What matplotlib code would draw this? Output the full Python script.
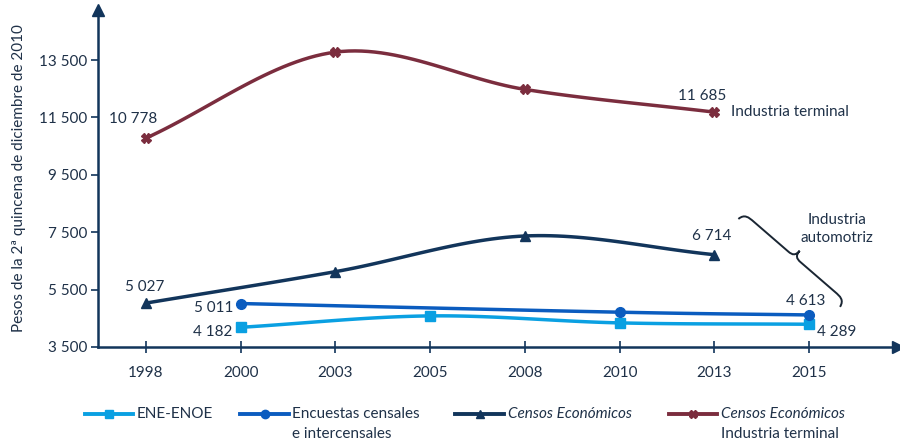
import numpy as np
import matplotlib
matplotlib.use("Agg")
from matplotlib import pyplot as plt
from matplotlib.lines import Line2D
from matplotlib.path import Path
from matplotlib.patches import PathPatch
from matplotlib.ticker import FuncFormatter

plt.rcParams['font.family'] = ['Lato', 'DejaVu Sans']

years = ['1998', '2000', '2003', '2005', '2008', '2010', '2013', '2015']
ene_enoe = [None, 4182, None, 4580, None, 4336, None, 4289]
encuestas = [None, 5011, None, None, None, 4709, None, 4613]
censos = [5027, None, 6123, None, 7367, None, 6714, None]
censos_terminal = [10778, None, 13778, None, 12478, None, 11685, None]

c_light = '#0aa0e2'
c_blue = '#0b5cbf'
c_navy = '#12355b'
c_red = '#7b2d3e'
c_text = '#1f3148'
fs = 11


def smooth(xs, ys, n=30):
    # Catmull-Rom curve through the points (like Excel smoothed lines)
    xs = np.asarray(xs, float)
    ys = np.asarray(ys, float)
    px = np.concatenate([[2 * xs[0] - xs[1]], xs, [2 * xs[-1] - xs[-2]]])
    py = np.concatenate([[2 * ys[0] - ys[1]], ys, [2 * ys[-1] - ys[-2]]])
    out_x, out_y = [], []
    t = np.linspace(0, 1, n)
    for i in range(1, len(px) - 2):
        for p, out in ((px, out_x), (py, out_y)):
            p0, p1, p2, p3 = p[i - 1], p[i], p[i + 1], p[i + 2]
            out.extend(0.5 * ((2 * p1) + (-p0 + p2) * t + (2 * p0 - 5 * p1 + 4 * p2 - p3) * t ** 2
                              + (-p0 + 3 * p1 - 3 * p2 + p3) * t ** 3))
    return out_x, out_y


series = [
    (ene_enoe, c_light, 's', 7),
    (encuestas, c_blue, 'o', 7),
    (censos, c_navy, '^', 7),
    (censos_terminal, c_red, 'X', 7),
]

fig = plt.figure(figsize=(9, 4.43), dpi=100)
ax = fig.add_axes([0.109, 0.217, 0.889, 0.76])

for vals, col, mk, ms in series:
    xs = [i for i, v in enumerate(vals) if v is not None]
    ys = [v for v in vals if v is not None]
    sx, sy = smooth(xs, ys)
    ax.plot(sx, sy, color=col, lw=2.5, solid_capstyle='round', zorder=3)
    ax.plot(xs, ys, ls='none', marker=mk, ms=ms, color=col, mec=col, zorder=4)

ax.set_xlim(-0.505, 7.94)
ax.set_ylim(3500, 15240)
ax.set_xticks(range(len(years)))
ax.set_xticklabels(years)
ax.set_yticks(np.arange(3500, 14000, 2000))
ax.yaxis.set_major_formatter(FuncFormatter(lambda v, p: f'{int(v):,}'.replace(',', ' ')))
ax.tick_params(axis='x', direction='inout', length=9, width=1.2, color=c_navy, pad=9,
               labelsize=fs, labelcolor=c_text)
ax.tick_params(axis='y', direction='out', length=5, width=1.2, color=c_navy, pad=3,
               labelsize=fs, labelcolor=c_text)
for s in ('top', 'right'):
    ax.spines[s].set_visible(False)
for s in ('left', 'bottom'):
    ax.spines[s].set_color(c_navy)
    ax.spines[s].set_linewidth(1.8)
ax.plot(1, 0, '>', color=c_navy, ms=8, transform=ax.transAxes, clip_on=False)
ax.plot(0, 1, '^', color=c_navy, ms=8, transform=ax.transAxes, clip_on=False)
ax.patch.set_visible(False)

ax.set_ylabel('Pesos de la 2ª quincena de diciembre de 2010', fontsize=fs, color=c_text, labelpad=9)

# data labels
labels = [
    (0, censos_terminal[0], '10 778', (-13, 19), 'center'),
    (6, censos_terminal[6], '11 685', (-12, 16), 'center'),
    (0, censos[0], '5 027', (-1, 16), 'center'),
    (6, censos[6], '6 714', (-3, 19), 'center'),
    (1, encuestas[1], '5 011', (-7, -4), 'right'),
    (1, ene_enoe[1], '4 182', (-8, -5), 'right'),
    (7, encuestas[7], '4 613', (-3, 14), 'center'),
    (7, ene_enoe[7], '4 289', (28, -8), 'center'),
]
for x, y, txt, off, ha in labels:
    ax.annotate(txt, (x, y), xytext=off, textcoords='offset pixels', ha=ha, va='center',
                fontsize=fs, color=c_text)
ax.annotate('Industria terminal', (6, censos_terminal[6]), xytext=(17, 0), textcoords='offset pixels',
            ha='left', va='center', fontsize=fs, color=c_text)
ax.annotate('Industria\nautomotriz', (7, encuestas[7]), xytext=(28, 86), textcoords='offset pixels',
            ha='center', va='center', fontsize=fs, color=c_text, linespacing=1.35)

# curly brace
p0 = ax.transData.transform((6.253, 7960))
p1 = ax.transData.transform((7.326, 4895))
d = p1 - p0
L = np.hypot(*d)
u = d / L
v = np.array([-u[1], u[0]])
h = 16
local = [(0, 0), (0.01, 0.5), (0.05, 0.5), (0.1, 0.5), (0.44, 0.5),
         (0.48, 0.5), (0.5, 0.6), (0.5, 1.0), (0.5, 0.6), (0.52, 0.5), (0.56, 0.5),
         (0.9, 0.5), (0.95, 0.5), (0.99, 0.5), (1.0, 0.0)]
pts = [p0 + a * L * u + b * h * v for a, b in local]
codes = [Path.MOVETO, Path.CURVE4, Path.CURVE4, Path.CURVE4, Path.LINETO,
         Path.CURVE4, Path.CURVE4, Path.CURVE4, Path.CURVE4, Path.CURVE4, Path.CURVE4,
         Path.LINETO, Path.CURVE4, Path.CURVE4, Path.CURVE4]
fig.add_artist(PathPatch(Path(pts, codes), transform=None, fill=False, ec='#1a2633', lw=1.4))

# legend, drawn by hand to allow mixed styles
leg_y = 0.0655
leg_items = [
    (0.094, c_light, 's', [('ENE-ENOE', 'normal')]),
    (0.267, c_blue, 'o', [('Encuestas censales', 'normal'), ('e intercensales', 'normal')]),
    (0.506, c_navy, '^', [('Censos Económicos', 'italic')]),
    (0.743, c_red, 'X', [('Censos Económicos', 'italic'), ('Industria terminal', 'normal')]),
]
for x0, col, mk, lines in leg_items:
    fig.add_artist(Line2D([x0, x0 + 0.054], [leg_y, leg_y], color=col, lw=2.8, transform=fig.transFigure))
    fig.add_artist(Line2D([x0 + 0.027], [leg_y], color=col, marker=mk, ms=6, transform=fig.transFigure))
    for k, (txt, style) in enumerate(lines):
        fig.text(x0 + 0.058, leg_y - k * 0.045, txt, ha='left', va='center', fontsize=fs,
                 color=c_text, style=style)

fig.savefig('out.png', dpi=100)
